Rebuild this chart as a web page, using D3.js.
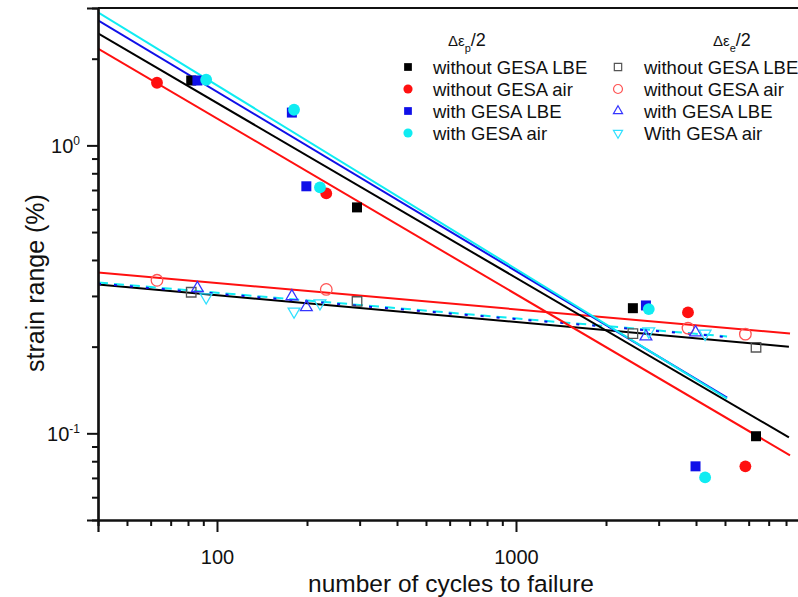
<!DOCTYPE html>
<html>
<head>
<meta charset="utf-8">
<script src="https://cdn.jsdelivr.net/npm/d3@7"></script>
<style>
    body { margin: 0; background: #fff; }
    svg text { font-family: "Liberation Sans", Arial, sans-serif; fill: #111; }
</style>
</head>
<body>
<div id="chart"></div>
<script>
// cycles to failure (N) for each specimen group
var nWithoutLBE = [82, 294, 2460, 6350];
var nWithoutAir = [63, 232, 3760, 5850];
var nWithLBE = [86, 178, 199, 2720, 3985];
var nWithAir = [92, 181, 221, 2780, 4290];

// plastic strain amplitude (filled markers)
var plWithoutLBE = [1.68, 0.609, 0.272, 0.0977];
var plWithoutAir = [1.65, 0.681, 0.263, 0.0768];
var plWithLBE = [1.68, 1.30, 0.721, 0.278, 0.0768];
var plWithAir = [1.69, 1.33, 0.715, 0.270, 0.0703];

// elastic strain amplitude (open markers)
var elWithoutLBE = [0.309, 0.287, 0.222, 0.199];
var elWithoutAir = [0.340, 0.316, 0.232, 0.221];
var elWithLBE = [0.319, 0.299, 0.274, 0.217, 0.224];
var elWithAir = [0.297, 0.265, 0.283, 0.226, 0.222];

// fitted lines: [N start, value start, N end, value end]
var fitPlWithoutLBE = [40, 2.45, 8180, 0.0968];
var fitPlWithoutAir = [40, 2.17, 8250, 0.0839];
var fitPlWithLBE = [40, 2.72, 5080, 0.133];
var fitPlWithAir = [40, 2.90, 5080, 0.132];
var fitElWithoutLBE = [40, 0.329, 8180, 0.200];
var fitElWithoutAir = [40, 0.362, 8250, 0.222];
var fitElWithLBE = [40, 0.331, 5080, 0.216];
var fitElWithAir = [40, 0.334, 5080, 0.217];

var xMajor = [100, 1000];
var xMinor = [50, 60, 70, 80, 90, 200, 300, 400, 500, 600, 700, 800, 900, 2000, 3000, 4000, 5000, 6000, 7000, 8000, 9000];
var yMajor = [0.1, 1];
var yMinor = [0.06, 0.07, 0.08, 0.09, 0.2, 0.3, 0.4, 0.5, 0.6, 0.7, 0.8, 0.9, 2];

var plasticLegend = ["without GESA LBE", "without GESA air", "with GESA LBE", "with GESA air"];
var elasticLegend = ["without GESA LBE", "without GESA air", "with GESA LBE", "With GESA air"];

var width = 798,
    height = 597;

var plotLeft = 98, plotRight = 815, plotTop = 8, plotBottom = 520;

var svg = d3.select("#chart").append("svg").attr("width", width).attr("height", height);

var x = d3.scaleLog().domain([40, 10000]).range([plotLeft, plotRight]);
var y = d3.scaleLog().domain([0.05, 3]).range([plotBottom, plotTop]);

var black = "#000000", red = "#ff1010", blue = "#1010e8", cyan = "#10ecf2";

svg.append("clipPath").attr("id", "clip")
    .append("rect").attr("x", plotLeft).attr("y", plotTop)
    .attr("width", plotRight - plotLeft).attr("height", plotBottom - plotTop);
var plotArea = svg.append("g").attr("clip-path", "url(#clip)");

// fit lines
function fitLine(f, color, dash) {
    plotArea.append("line")
        .attr("x1", x(f[0])).attr("y1", y(f[1]))
        .attr("x2", x(f[2])).attr("y2", y(f[3]))
        .attr("stroke", color)
        .attr("stroke-width", 2)
        .attr("stroke-dasharray", dash || null);
}
fitLine(fitElWithoutAir, red);
fitLine(fitElWithoutLBE, black);
fitLine(fitElWithAir, cyan, "10,6");
fitLine(fitElWithLBE, blue, "3,13");
fitLine(fitPlWithoutAir, red);
fitLine(fitPlWithoutLBE, black);
fitLine(fitPlWithLBE, blue);
fitLine(fitPlWithAir, cyan);

// markers
function symbolPath(type, size) {
    return d3.symbol().type(type).size(size)();
}
var markerStyles = {
    fSquare: { type: d3.symbolSquare, size: 100, fill: true, rot: 0 },
    fCircle: { type: d3.symbolCircle, size: 110, fill: true, rot: 0 },
    oSquare: { type: d3.symbolSquare, size: 90, fill: false, rot: 0 },
    oCircle: { type: d3.symbolCircle, size: 105, fill: false, rot: 0 },
    oUp: { type: d3.symbolTriangle, size: 60, fill: false, rot: 0 },
    oDown: { type: d3.symbolTriangle, size: 60, fill: false, rot: 180 }
};

function drawMarkers(g, ns, vals, style, color) {
    var s = markerStyles[style];
    g.selectAll(null)
        .data(ns.map(function (n, i) { return { n: n, v: vals[i] }; }))
        .enter()
        .append("path")
        .attr("d", symbolPath(s.type, s.size))
        .attr("transform", function (d) {
            return "translate(" + x(d.n) + "," + y(d.v) + ") rotate(" + s.rot + ")";
        })
        .attr("fill", s.fill ? color : "none")
        .attr("stroke", s.fill ? "none" : color)
        .attr("stroke-width", 1.3);
}

var pts = svg.append("g");
drawMarkers(pts, nWithoutLBE, elWithoutLBE, "oSquare", "#555555");
drawMarkers(pts, nWithoutAir, elWithoutAir, "oCircle", "#ff5555");
drawMarkers(pts, nWithLBE, elWithLBE, "oUp", "#3535ff");
drawMarkers(pts, nWithAir, elWithAir, "oDown", "#30e0ff");
drawMarkers(pts, nWithoutLBE, plWithoutLBE, "fSquare", black);
drawMarkers(pts, nWithoutAir, plWithoutAir, "fCircle", red);
drawMarkers(pts, nWithLBE, plWithLBE, "fSquare", blue);
drawMarkers(pts, nWithAir, plWithAir, "fCircle", cyan);

// axes
var axisG = svg.append("g");
axisG.append("g")
    .attr("transform", "translate(0," + plotBottom + ")")
    .call(d3.axisBottom(x).tickValues(xMinor).tickSize(6).tickFormat(""));
axisG.append("g")
    .attr("transform", "translate(0," + plotBottom + ")")
    .call(d3.axisBottom(x).tickValues(xMajor).tickSize(12).tickPadding(18).tickFormat(d3.format("d")));
axisG.append("g")
    .attr("transform", "translate(" + plotLeft + ",0)")
    .call(d3.axisLeft(y).tickValues(yMinor).tickSize(6).tickFormat(""));
axisG.append("g")
    .attr("transform", "translate(" + plotLeft + ",0)")
    .call(d3.axisLeft(y).tickValues(yMajor).tickSize(11).tickFormat(""));

axisG.selectAll(".domain").attr("stroke-width", 2.2).attr("stroke", "#111");
axisG.selectAll(".tick line").attr("stroke-width", 2).attr("stroke", "#111");
axisG.selectAll(".tick text").attr("font-size", "20px").attr("font-family", "Liberation Sans, Arial, sans-serif").attr("fill", "#111");

// y tick labels with superscript exponents
yMajor.forEach(function (v) {
    var t = svg.append("text")
        .attr("x", 80)
        .attr("y", y(v) + 8)
        .attr("text-anchor", "end")
        .attr("font-size", "20px")
        .text("10");
    t.append("tspan")
        .attr("dy", -8)
        .attr("font-size", "12px")
        .text(Math.round(Math.log10(v)) === 0 ? "0" : "-1");
});

// top border
svg.append("line")
    .attr("x1", plotLeft).attr("x2", plotRight)
    .attr("y1", plotTop).attr("y2", plotTop)
    .attr("stroke", "#111").attr("stroke-width", 2.2);

// axis titles
svg.append("text")
    .attr("x", 451).attr("y", 592)
    .attr("text-anchor", "middle")
    .attr("font-size", "24.5px")
    .text("number of cycles to failure");

svg.append("text")
    .attr("transform", "translate(44,283) rotate(-90)")
    .attr("text-anchor", "middle")
    .attr("font-size", "25px")
    .text("strain range (%)");

// legend
function legendTitle(xp, sub) {
    var t = svg.append("text").attr("x", xp).attr("y", 46).attr("font-size", "18px");
    t.append("tspan").attr("font-size", "15px").text("\u0394\u03b5");
    t.append("tspan").attr("dy", 6).attr("font-size", "11px").text(sub);
    t.append("tspan").attr("dy", -6).text("/2");
}
legendTitle(448, "p");
legendTitle(713, "e");

var rowY = [67, 89, 111, 133];
var plasticKeys = [["fSquare", black], ["fCircle", red], ["fSquare", blue], ["fCircle", cyan]];
var elasticKeys = [["oSquare", "#555555"], ["oCircle", "#ff5555"], ["oUp", "#3535ff"], ["oDown", "#30e0ff"]];

function legendColumn(mx, tx, labels, keys) {
    labels.forEach(function (label, i) {
        var s = markerStyles[keys[i][0]];
        svg.append("path")
            .attr("d", symbolPath(s.type, s.size * 0.6))
            .attr("transform", "translate(" + mx + "," + rowY[i] + ") rotate(" + s.rot + ")")
            .attr("fill", s.fill ? keys[i][1] : "none")
            .attr("stroke", s.fill ? "none" : keys[i][1])
            .attr("stroke-width", 1.2);
        svg.append("text")
            .attr("x", tx)
            .attr("y", rowY[i] + 6.5)
            .attr("font-size", "18.5px")
            .text(label);
    });
}
legendColumn(408, 433, plasticLegend, plasticKeys);
legendColumn(618, 644, elasticLegend, elasticKeys);
</script>
</body>
</html>
